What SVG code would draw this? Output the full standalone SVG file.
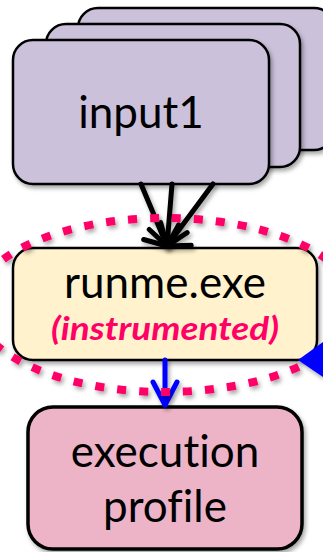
<svg xmlns="http://www.w3.org/2000/svg" width="323" height="552" viewBox="0 0 323 552">
  <defs>
    <filter id="shadow" filterUnits="userSpaceOnUse" x="-50" y="-50" width="423" height="652">
      <feDropShadow dx="2" dy="3" stdDeviation="2" flood-color="#000" flood-opacity="0.35"/>
    </filter>
    <marker id="head-black" markerUnits="userSpaceOnUse" viewBox="-20 -22 24 44" markerWidth="24" markerHeight="44" refX="0" refY="0" orient="auto">
      <path d="M-15,-19 L0,0 L-15,19" fill="none" stroke="#000" stroke-width="5" stroke-linecap="round" stroke-linejoin="round"/>
    </marker>
    <marker id="head-blue" markerUnits="userSpaceOnUse" viewBox="-28 -16 32 32" markerWidth="32" markerHeight="32" refX="0" refY="0" orient="auto">
      <path d="M-23,-12 L0,0 L-23,12" fill="none" stroke="#0000FF" stroke-width="5" stroke-linecap="round" stroke-linejoin="round"/>
    </marker>
    <style>
      .box { stroke: #000; stroke-width: 2.5; filter: url(#shadow); }
      .input { fill: #CCC1DA; }
      .exe { fill: #FFF2CC; }
      .profile { fill: #EDB4C8; stroke-width: 3.5; }
      .label { font-family: Lato, "Open Sans", "Liberation Sans", sans-serif; fill: #000; text-anchor: middle; font-variant-ligatures: none; }
      .note { font-family: Lato, "Open Sans", "Liberation Sans", sans-serif; font-weight: bold; font-style: italic; fill: #FF0066; text-anchor: middle; font-variant-ligatures: none; }
      .edge { fill: none; stroke-linecap: round; filter: url(#shadow); }
    </style>
  </defs>

  <!-- stacked input files -->
  <g id="input-stack">
    <rect class="box input" x="78" y="8" width="256" height="142" rx="20"/>
    <rect class="box input" x="46" y="24" width="254" height="143" rx="20"/>
    <rect class="box input" x="13" y="40" width="256" height="144" rx="20"/>
    <text class="label" x="141" y="128" font-size="44">input1</text>
  </g>

  <!-- instrumented executable -->
  <g id="runme">
    <rect class="box exe" x="13" y="248" width="304" height="112" rx="20"/>
    <text class="label" x="165" y="298" font-size="44">runme.exe</text>
    <text class="note" x="165" y="340" font-size="32" textLength="228" lengthAdjust="spacingAndGlyphs">(instrumented)</text>
  </g>

  <!-- output profile -->
  <g id="profile">
    <rect class="box profile" x="28" y="407" width="274" height="142" rx="25"/>
    <text class="label" x="165" y="467" font-size="44">execution</text>
    <text class="label" x="165" y="522" font-size="44">profile</text>
  </g>

  <!-- connectors -->
  <g id="connectors">
    <line class="edge" x1="141" y1="184" x2="167" y2="246" stroke="#000" stroke-width="5" marker-end="url(#head-black)"/>
    <line class="edge" x1="172" y1="184" x2="167" y2="246" stroke="#000" stroke-width="5" marker-end="url(#head-black)"/>
    <line class="edge" x1="213" y1="184" x2="167" y2="246" stroke="#000" stroke-width="5" marker-end="url(#head-black)"/>
    <line class="edge" x1="165" y1="360" x2="165" y2="405" stroke="#0000FF" stroke-width="5" marker-end="url(#head-blue)"/>
  </g>

  <!-- dashed highlight around the executable -->
  <g id="highlight">
    <ellipse cx="165" cy="305" rx="190" ry="87" fill="none" stroke="#FF0066" stroke-width="8" stroke-dasharray="9 13" filter="url(#shadow)"/>
  </g>

  <!-- incoming arrowhead at the right edge -->
  <g id="side-arrow">
    <polygon points="298,360 323,342 323,377" fill="#0000FF" filter="url(#shadow)"/>
  </g>
</svg>
